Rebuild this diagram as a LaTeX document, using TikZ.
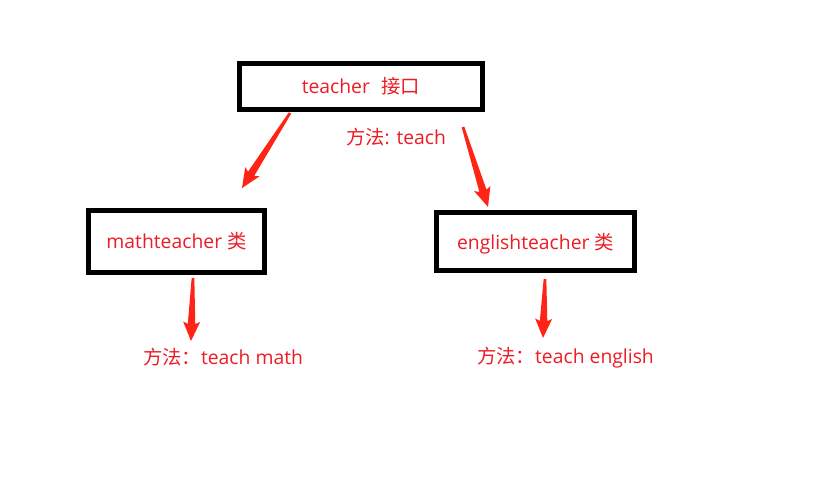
\documentclass[tikz,border=0pt]{standalone}
\usepackage{fontspec}
\setmainfont{Open Sans}
\newfontfamily\cjk{Noto Sans CJK SC}
\usetikzlibrary{calc}
\definecolor{inkred}{HTML}{ED1C24}
\definecolor{arrowred}{HTML}{FF2416}
\tikzset{
  box/.style={draw=black, line width=3.75pt, inner sep=0pt, text=inkred, font=\fontsize{14.5}{16}\selectfont},
  note/.style={text=inkred, inner sep=0pt, font=\fontsize{14.5}{16}\selectfont}
}
% tapered arrow from #1 to #2
\newcommand{\fatarrow}[2]{%
  \coordinate (#1b) at ($(#2)!12.75pt!(#1)$);
  \fill[arrowred] ($(#1)!1pt!90:(#2)$) -- ($(#1b)!2.8pt!90:(#2)$) -- ($(#1b)!6.6pt!105:(#2)$) -- (#2)
    -- ($(#1b)!6.6pt!-105:(#2)$) -- ($(#1b)!2.8pt!-90:(#2)$) -- ($(#1)!1pt!-90:(#2)$) -- cycle;}

\begin{document}
\begin{tikzpicture}[x=0.75pt, y=-0.75pt]
        \fill[white] (0,0) rectangle (823,497);
        \useasboundingbox (0,0) rectangle (823,497);

        \node[box, minimum width=182.25pt, minimum height=34.5pt] (iface) at (361,86.5) {teacher\hspace{0.6em}{\cjk 接口}};
        \node[box, minimum width=132pt, minimum height=46.5pt] (math) at (176.5,241.5) {mathteacher {\cjk 类}};
        \node[box, minimum width=148.5pt, minimum height=43.5pt, text height=14pt, text depth=1.5pt] (english) at (535.5,241.5) {englishteacher {\cjk 类}};

        \node[note] (ifacemethod) at (396,137) {{\cjk 方法}: teach};
        \node[note] (mathmethod) at (223,357) {{\cjk 方法：}teach math};
        \node[note] (englishmethod) at (565.5,358) {{\cjk 方法：}teach english};

        \coordinate (tl) at (290,113);  \coordinate (tlend) at (242,188);
        \coordinate (tr) at (463,127);  \coordinate (trend) at (488,207);
        \coordinate (ml) at (193,278);  \coordinate (mlend) at (191,341);
        \coordinate (er) at (545,279);  \coordinate (erend) at (543,338);

        \fatarrow{tl}{tlend}
        \fatarrow{tr}{trend}
        \fatarrow{ml}{mlend}
        \fatarrow{er}{erend}
    \end{tikzpicture}
\end{document}
